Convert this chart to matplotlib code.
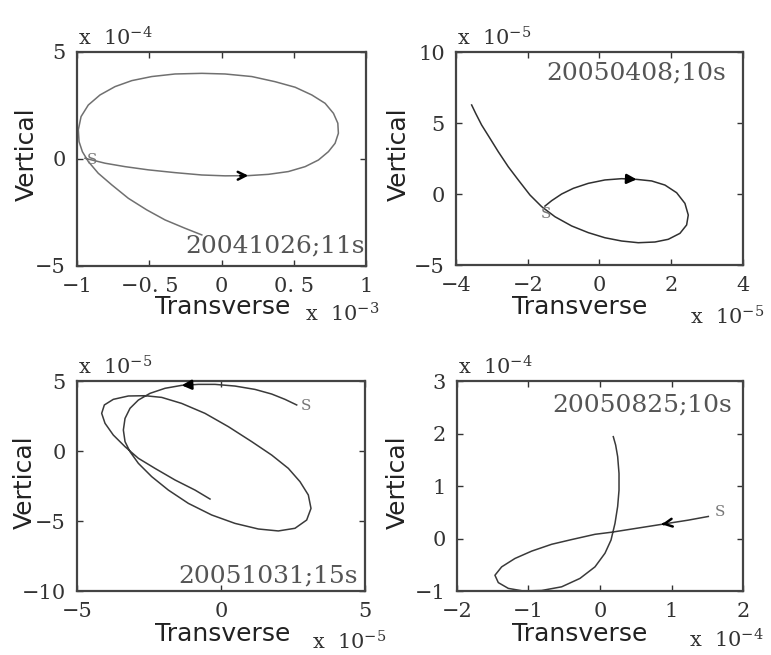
import matplotlib
matplotlib.use("Agg")
import matplotlib.pyplot as plt

plt.rcParams['font.family'] = 'DejaVu Serif'
plt.rcParams['mathtext.fontset'] = 'dejavuserif'

# ---- data, units as shown on each axis ----
# 20041026;11s  x in 1e-3, y in 1e-4
p1_x = [-0.945, -0.806, -0.668, -0.507, -0.322, -0.137, 0.024, 0.185, 0.324, 0.462, 0.578,
        0.67, 0.739, 0.785, 0.808, 0.804, 0.774, 0.716, 0.624, 0.509, 0.37, 0.209, 0.024,
        -0.137, -0.322, -0.483, -0.621, -0.737, -0.841, -0.922, -0.972, -0.991, -0.986,
        -0.963, -0.922, -0.853, -0.76, -0.645, -0.518, -0.391, -0.253, -0.137]
p1_y = [0.03, -0.2, -0.36, -0.51, -0.64, -0.75, -0.79, -0.78, -0.72, -0.59, -0.36,
        -0.05, 0.34, 0.73, 1.2, 1.67, 2.13, 2.6, 2.99, 3.35, 3.61, 3.85, 3.97,
        4.0, 3.97, 3.85, 3.66, 3.38, 2.99, 2.52, 1.98, 1.36, 0.81,
        0.34, -0.12, -0.67, -1.21, -1.84, -2.38, -2.85, -3.24, -3.55]
p1_arrow = 7

# 20050408;10s  x in 1e-5, y in 1e-5
p2_x = [-1.519, -1.333, -1.054, -0.729, -0.312, 0.153, 0.619, 1.037, 1.455, 1.826, 2.152,
        2.383, 2.476, 2.43, 2.244, 1.918, 1.547, 1.082, 0.619, 0.153, -0.312, -0.775,
        -1.24, -1.611, -1.937, -2.263, -2.542, -2.821, -3.052, -3.285, -3.451, -3.563]
p2_y = [-0.85, -0.47, 0.0, 0.4, 0.75, 0.99, 1.08, 1.03, 0.92, 0.63, 0.09,
        -0.66, -1.48, -2.18, -2.77, -3.19, -3.38, -3.43, -3.31, -3.08, -2.72, -2.25,
        -1.6, -0.89, -0.07, 0.99, 1.92, 2.98, 3.92, 4.86, 5.68, 6.27]
p2_arrow = 7

# 20051031;15s  x in 1e-5, y in 1e-5
p3_x = [2.628, 2.222, 1.76, 1.181, 0.486, -0.208, -0.787, -1.366, -1.944, -2.465, -2.87,
        -3.16, -3.333, -3.391, -3.333, -3.16, -2.87, -2.407, -1.829, -1.134, -0.324, 0.486,
        1.296, 1.99, 2.569, 2.975, 3.125, 3.032, 2.743, 2.338, 1.76, 1.066, 0.255, -0.556,
        -1.366, -2.06, -2.639, -3.218, -3.74, -4.051, -4.144, -4.028, -3.74, -3.333, -2.87,
        -2.292, -1.597, -0.903, -0.382]
p3_y = [3.29, 3.69, 4.07, 4.4, 4.64, 4.76, 4.76, 4.69, 4.48, 4.12, 3.64,
        3.05, 2.33, 1.5, 0.67, -0.05, -0.88, -1.83, -2.79, -3.74, -4.57, -5.17,
        -5.57, -5.71, -5.52, -4.93, -4.1, -3.14, -2.19, -1.24, -0.29, 0.67, 1.74, 2.69,
        3.4, 3.83, 3.95, 3.93, 3.69, 3.29, 2.69, 1.98, 1.14, 0.31, -0.52,
        -1.24, -2.07, -2.79, -3.43]
p3_arrow = 7

# 20050825;10s  x in 1e-4, y in 1e-4
p4_x = [1.515, 1.235, 0.955, 0.863, 0.583, 0.303, 0.163, -0.07, -0.396, -0.676, -0.955,
        -1.189, -1.375, -1.469, -1.422, -1.282, -1.072, -0.816, -0.536, -0.28, -0.07, 0.07,
        0.154, 0.21, 0.247, 0.266, 0.266, 0.247, 0.219, 0.186]
p4_y = [0.42, 0.35, 0.29, 0.27, 0.21, 0.15, 0.12, 0.08, -0.02, -0.11, -0.24,
        -0.38, -0.54, -0.7, -0.84, -0.95, -1.0, -0.99, -0.92, -0.76, -0.54, -0.28,
        -0.03, 0.29, 0.61, 0.92, 1.24, 1.56, 1.78, 1.94]
p4_arrow = 3

events = ['20041026;11s', '20050408;10s', '20051031;15s', '20050825;10s']

p1_xticks = [-1, -0.5, 0, 0.5, 1]
p1_xlabels = ['\u22121', '\u22120. 5', '0', '0. 5', '1']
p1_yticks = [-5, 0, 5]
p2_xticks = [-4, -2, 0, 2, 4]
p2_yticks = [-5, 0, 5, 10]
p3_xticks = [-5, 0, 5]
p3_yticks = [-10, -5, 0, 5]
p4_xticks = [-2, -1, 0, 1, 2]
p4_yticks = [-1, 0, 1, 2, 3]

exps = [(-3, -4), (-5, -5), (-5, -5), (-4, -4)]


def lab(v):
    return ('%g' % v).replace('-', '\u2212')


fig = plt.figure(figsize=(7.71, 6.55), dpi=100)

panels = [
    dict(rect=[0.0999, 0.594, 0.375, 0.3267], x=p1_x, y=p1_y, arrow=p1_arrow,
         xt=p1_xticks, yt=p1_yticks, xlim=(-1, 1), ylim=(-5, 5), color='#707070',
         astyle='->', txt=(0.995, 0.04, 'right', 'bottom'), s_off=(5, -1),
         ylc=-0.175, xlc=0.505, xly=-0.19, xoff=0.79, xoffy=-0.262, ev=events[0]),
    dict(rect=[0.5914, 0.5954, 0.3722, 0.3252], x=p2_x, y=p2_y, arrow=p2_arrow,
         xt=p2_xticks, yt=p2_yticks, xlim=(-4, 4), ylim=(-5, 10), color='#303030',
         astyle='-|>', txt=(0.94, 0.955, 'right', 'top'), s_off=(1, -6),
         ylc=-0.2, xlc=0.43, xly=-0.195, xoff=0.815, xoffy=-0.28, ev=events[1]),
    dict(rect=[0.0999, 0.0977, 0.3735, 0.3206], x=p3_x, y=p3_y, arrow=p3_arrow,
         xt=p3_xticks, yt=p3_yticks, xlim=(-5, 5), ylim=(-10, 5), color='#3a3a3a',
         astyle='-|>', txt=(0.975, 0.015, 'right', 'bottom'), s_off=(7, -1),
         ylc=-0.18, xlc=0.507, xly=-0.205, xoff=0.815, xoffy=-0.28, ev=events[2]),
    dict(rect=[0.5927, 0.0977, 0.371, 0.3206], x=p4_x, y=p4_y, arrow=p4_arrow,
         xt=p4_xticks, yt=p4_yticks, xlim=(-2, 2), ylim=(-1, 3), color='#3a3a3a',
         astyle='->', txt=(0.96, 0.94, 'right', 'top'), s_off=(8, 3),
         ylc=-0.206, xlc=0.43, xly=-0.205, xoff=0.81, xoffy=-0.27, ev=events[3]),
]

for i, p in enumerate(panels):
    ax = fig.add_axes(p['rect'])
    ax.plot(p['x'], p['y'], color=p['color'], lw=1.1)

    # direction arrow on the path
    k = p['arrow']
    x0, y0 = p['x'][k - 1], p['y'][k - 1]
    x1, y1 = p['x'][k], p['y'][k]
    tail = (x1 - 0.35 * (x1 - x0), y1 - 0.35 * (y1 - y0))
    ax.annotate('', xy=(x1, y1), xytext=tail,
                arrowprops=dict(arrowstyle=p['astyle'], color='black', lw=1.8,
                                mutation_scale=14, shrinkA=0, shrinkB=0))
    ax.annotate('S', xy=(p['x'][0], p['y'][0]), xytext=p['s_off'], textcoords='offset points',
                ha='center', va='center', fontsize=11, color='#777777')

    ax.set_xlim(*p['xlim'])
    ax.set_ylim(*p['ylim'])
    ax.set_xticks(p['xt'])
    ax.set_yticks(p['yt'])
    if i == 0:
        ax.set_xticklabels(p1_xlabels)
    else:
        ax.set_xticklabels([lab(v) for v in p['xt']])
    ax.set_yticklabels([lab(v) for v in p['yt']])
    ax.tick_params(direction='in', length=4, width=1, top=True, right=True,
                   labelsize=15, colors='#333333', pad=8)
    for sp in ax.spines.values():
        sp.set_linewidth(1.6)
        sp.set_color('#444444')

    ax.set_ylabel('Vertical', family='DejaVu Sans', fontsize=18, color='#222222')
    ax.yaxis.set_label_coords(p['ylc'], 0.52)
    ax.yaxis.label.set_va('center')
    ax.set_xlabel('Transverse', family='DejaVu Sans', fontsize=18, color='#222222')
    ax.xaxis.set_label_coords(p['xlc'], p['xly'])
    ax.xaxis.label.set_va('center')

    tx, ty, ha, va = p['txt']
    ax.text(tx, ty, p['ev'], transform=ax.transAxes, ha=ha, va=va,
            fontsize=18, color='#555555')

    ex, ey = exps[i]
    ax.text(0.005, 1.03, r'x  10$^{%d}$' % ey, transform=ax.transAxes,
            ha='left', va='baseline', fontsize=15, color='#333333')
    ax.text(p['xoff'], p['xoffy'], r'x  10$^{%d}$' % ex, transform=ax.transAxes,
            ha='left', va='baseline', fontsize=15, color='#333333')

fig.savefig('out.png', dpi=100)
